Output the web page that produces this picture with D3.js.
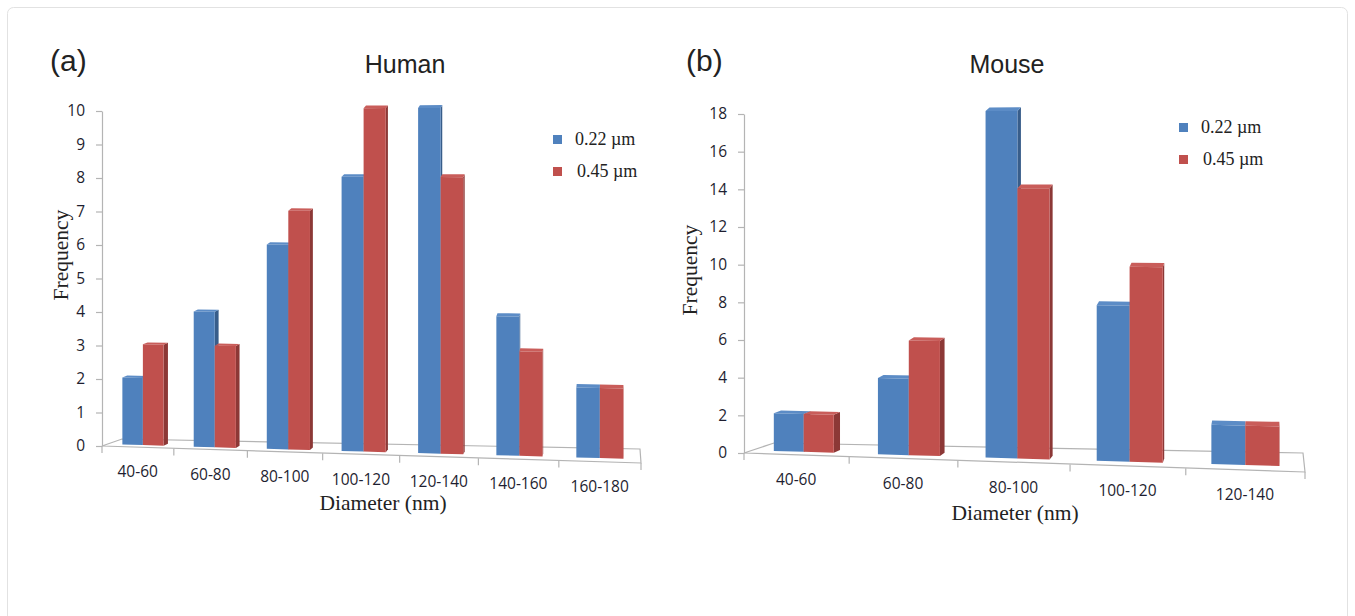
<!DOCTYPE html>
<meta charset="utf-8">
<style>
  body { margin: 0; background: #fff; }
  text { fill: #222; }
</style>
<svg width="1355" height="616"></svg>
<script src="https://d3js.org/d3.v7.min.js"></script>
<script>

// data
var humanCats = ["40-60", "60-80", "80-100", "100-120", "120-140", "140-160", "160-180"],
    human022 = [2, 4, 6, 8, 10, 4, 2],
    human045 = [3, 3, 7, 10, 8, 3, 2];

var mouseCats = ["40-60", "60-80", "80-100", "100-120", "120-140"],
    mouse022 = [2, 4, 18, 8, 2],
    mouse045 = [2, 6, 14, 10, 2];

var seriesNames = ["0.22 \u00b5m", "0.45 \u00b5m"];

var colors = {
  front: ["#4f81bd", "#c0504d"],
  side: ["#385d8a", "#8c3836"],
  top: ["#5c8cc6", "#c95d5a"]
};

var svg = d3.select("svg");

svg.append("rect")
    .attr("x", 7.5).attr("y", 7.5)
    .attr("width", 1340).attr("height", 620)
    .attr("rx", 6)
    .attr("fill", "#fff")
    .attr("stroke", "#e2e2e2");

var panels = [
  {letter: "(a)", title: "Human", cats: humanCats, a: human022, b: human045,
   max: 10, step: 1, x0: 102, x1: 641, yf0: 446, yf1: 463, px: 335,
   off0: [20, -7], off1: [-1, -14],
   letterX: 50, titleX: 405, xTitle: [383, 510], yTitle: [60, 255],
   legend: [553, 135]},
  {letter: "(b)", title: "Mouse", cats: mouseCats, a: mouse022, b: mouse045,
   max: 18, step: 2, x0: 744, x1: 1305, yf0: 453, yf1: 472, px: 339,
   off0: [30, -10], off1: [-2, -19],
   letterX: 686, titleX: 1007, xTitle: [1015, 520], yTitle: [689, 270],
   legend: [1179, 123]}
];

panels.forEach(drawPanel);

function drawPanel(p) {
  var g = svg.append("g");
  var k = 0.085;

  var x = d3.scaleBand()
      .domain(p.cats)
      .range([0, 1])
      .paddingInner(0.42)
      .paddingOuter(0.21);

  var h = d3.scaleLinear()
      .domain([0, p.max])
      .range([0, p.px]);

  // u along the axis, z depth (0 front, 1 back), v value
  function proj(u, z, v) {
    var sx = p.x0 + (p.x1 - p.x0) * u * (1 + k * u) / (1 + k),
        sy = p.yf0 + (p.yf1 - p.yf0) * u,
        dx = p.off0[0] + (p.off1[0] - p.off0[0]) * u,
        dy = p.off0[1] + (p.off1[1] - p.off0[1]) * u;
    return [sx + dx * z, sy + dy * z - h(v) * (1 + 0.05 * u)];
  }

  var line = d3.line();

  // floor
  g.append("path")
      .attr("d", line([proj(0, 0, 0), proj(1, 0, 0), proj(1, 1, 0), proj(0, 1, 0)]) + "Z")
      .attr("fill", "none")
      .attr("stroke", "#b4b4b4")
      .attr("stroke-width", 1.2);

  // x ticks
  d3.range(p.cats.length + 1).forEach(function(i) {
    var q = proj(i / p.cats.length, 0, 0);
    g.append("line")
        .attr("x1", q[0]).attr("y1", q[1])
        .attr("x2", q[0]).attr("y2", q[1] + 7)
        .attr("stroke", "#b4b4b4")
        .attr("stroke-width", 1.2);
  });

  // y axis
  var yAxis = d3.scaleLinear()
      .domain([0, p.max])
      .range([p.yf0, p.yf0 - p.px]);

  var ax = g.append("g")
      .attr("transform", "translate(" + p.x0 + ",0)")
      .call(d3.axisLeft(yAxis)
          .tickValues(d3.range(0, p.max + 1, p.step))
          .tickSize(6)
          .tickSizeOuter(0)
          .tickPadding(11));
  ax.select(".domain").attr("stroke", "#b4b4b4").attr("stroke-width", 1.2);
  ax.selectAll(".tick line").attr("stroke", "#b4b4b4").attr("stroke-width", 1.2);
  ax.selectAll(".tick text")
      .attr("font-family", "Open Sans")
      .attr("font-size", 15.5)
      .style("fill", "#1e1e30");

  // bars
  var z0 = 0.28, z1 = 0.53, bw = x.bandwidth() / 2;
  p.cats.forEach(function(c, i) {
    [p.a[i], p.b[i]].forEach(function(v, s) {
      var u0 = x(c) + s * bw, u1 = u0 + bw;
      var side = [proj(u1, z0, 0), proj(u1, z1, 0), proj(u1, z1, v), proj(u1, z0, v)],
          top = [proj(u0, z0, v), proj(u1, z0, v), proj(u1, z1, v), proj(u0, z1, v)],
          front = [proj(u0, z0, 0), proj(u1, z0, 0), proj(u1, z0, v), proj(u0, z0, v)];
      g.append("path").attr("d", line(side) + "Z").attr("fill", colors.side[s]);
      g.append("path").attr("d", line(top) + "Z").attr("fill", colors.top[s]);
      g.append("path").attr("d", line(front) + "Z").attr("fill", colors.front[s]);
    });

    var q = proj(x(c) + x.bandwidth() / 2, 0, 0);
    g.append("text")
        .attr("x", q[0]).attr("y", q[1] + 30)
        .attr("text-anchor", "middle")
        .attr("font-family", "Open Sans")
        .attr("font-size", 15.5)
        .style("fill", "#1e1e30")
        .text(c);
  });

  // titles
  g.append("text")
      .attr("x", p.letterX).attr("y", 71)
      .attr("font-family", "Liberation Sans")
      .attr("font-size", 30)
      .text(p.letter);

  g.append("text")
      .attr("x", p.titleX).attr("y", 73)
      .attr("text-anchor", "middle")
      .attr("font-family", "Liberation Sans")
      .attr("font-size", 25)
      .text(p.title);

  g.append("text")
      .attr("x", p.xTitle[0]).attr("y", p.xTitle[1])
      .attr("text-anchor", "middle")
      .attr("font-family", "Liberation Serif")
      .attr("font-size", 21.5)
      .text("Diameter (nm)");

  g.append("text")
      .attr("transform", "translate(" + p.yTitle[0] + "," + p.yTitle[1] + ") rotate(-90)")
      .attr("text-anchor", "middle")
      .attr("dy", "0.35em")
      .attr("font-family", "Liberation Serif")
      .attr("font-size", 21.5)
      .text("Frequency");

  // legend
  seriesNames.forEach(function(n, s) {
    var lx = p.legend[0], ly = p.legend[1] + s * 32;
    g.append("rect")
        .attr("x", lx).attr("y", ly)
        .attr("width", 9).attr("height", 9)
        .attr("fill", colors.front[s]);
    g.append("text")
        .attr("x", lx + 22 + s * 2).attr("y", ly + 10)
        .attr("font-family", "Liberation Serif")
        .attr("font-size", 18)
        .text(n);
  });
}

</script>
